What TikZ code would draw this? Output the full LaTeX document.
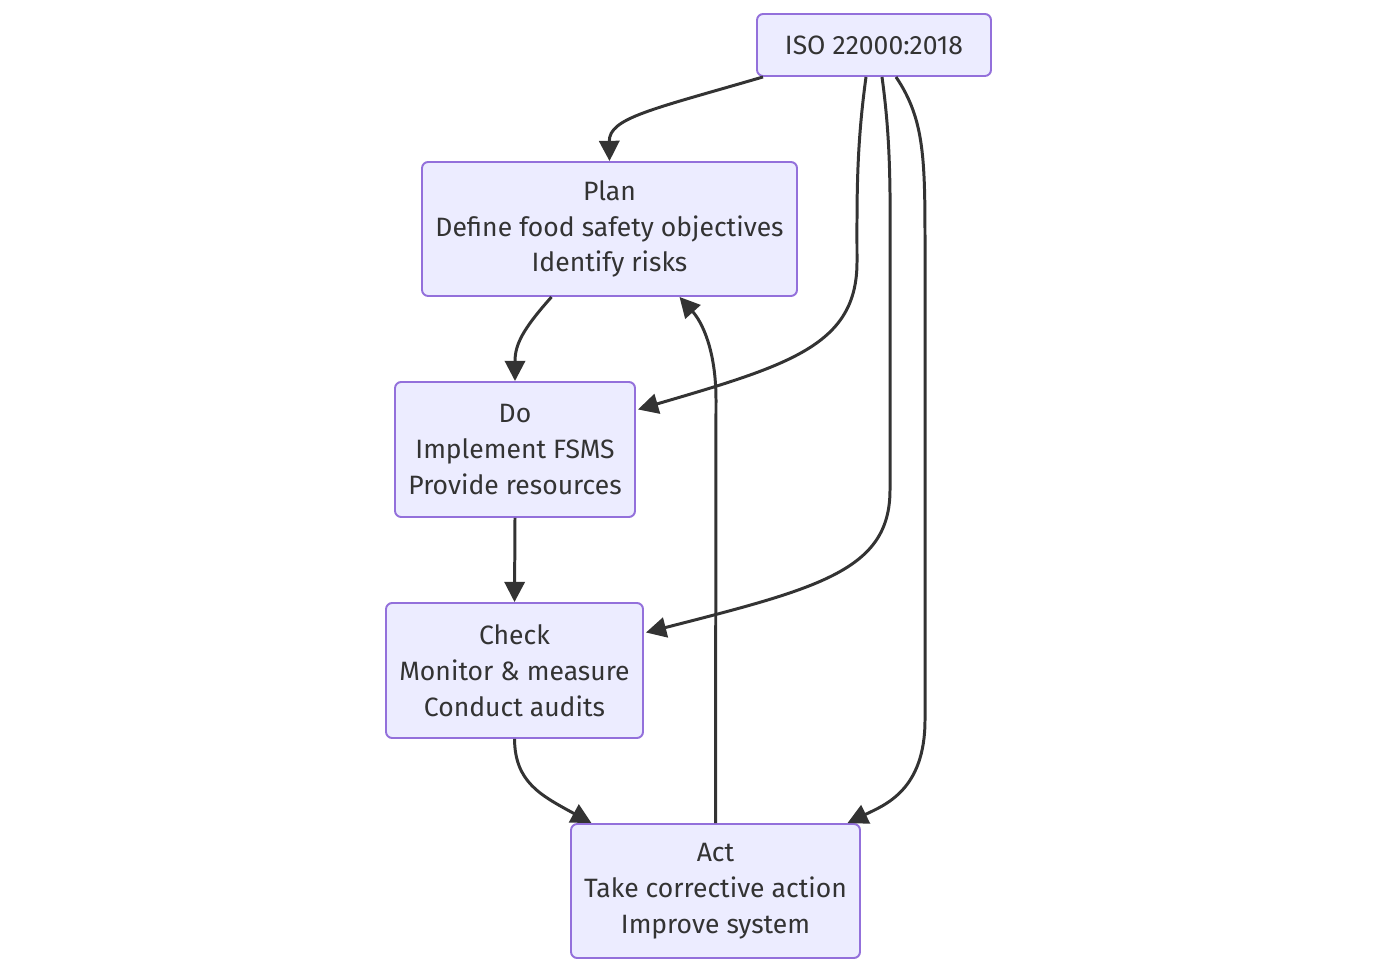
\documentclass[tikz,border=0pt]{standalone}
\usepackage{fontspec}
\setmainfont{Fira Sans}
\usetikzlibrary{arrows.meta,calc}
\definecolor{boxfill}{HTML}{ECECFF}
\definecolor{boxline}{HTML}{9370DB}
\definecolor{ink}{HTML}{333333}
\begin{document}
\begin{tikzpicture}[
                x=0.02cm, y=-0.02cm,
                phase/.style={rectangle,rounded corners=3.5pt,draw=boxline,fill=boxfill,
                    line width=1.1pt,text=ink,align=center,inner sep=0pt,
                    font=\fontsize{15.1}{20.4}\selectfont},
                flow/.style={draw=ink,line width=1.7pt,
                    -{Triangle[length=11.5pt,width=11.5pt]}}
            ]

            \useasboundingbox (0,0) rectangle (1379,972);

            \node[phase,minimum width=234*0.02cm,minimum height=62*0.02cm] (iso) at (874,45) {ISO 22000:2018};
            \node[phase,minimum width=375*0.02cm,minimum height=134*0.02cm] (plan) at (609.5,229)
                {Plan\\Define food safety objectives\\Identify risks};
            \node[phase,minimum width=240*0.02cm,minimum height=135*0.02cm] (do) at (515,449.5)
                {Do\\Implement FSMS\\Provide resources};
            \node[phase,minimum width=257*0.02cm,minimum height=135*0.02cm] (check) at (514.5,670.5)
                {Check\\Monitor \& measure\\Conduct audits};
            \node[phase,minimum width=289*0.02cm,minimum height=134*0.02cm] (act) at (715.5,891)
                {Act\\Take corrective action\\Improve system};

            \draw[flow] ($(iso.south)+(-111,0)$) .. controls (650,110) and (609,118) .. (plan.north);
            \draw[flow] ($(iso.south)+(-8,0)$) .. controls (856,150) and (857,200) .. (857,262)
                .. controls (857,345) and (790,365) .. ($(do.east)+(2,-40)$);
            \draw[flow] ($(iso.south)+(8,0)$) .. controls (892,150) and (890,200) .. (890,300)
                -- (890,490) .. controls (890,570) and (820,588) .. ($(check.east)+(2,-38)$);
            \draw[flow] ($(iso.south)+(22,0)$) .. controls (925,120) and (925,160) .. (925,250)
                -- (925,720) .. controls (925,790) and (885,805) .. ($(act.north)+(132,0)$);

            \draw[flow] ($(plan.south)+(-58,0)$) .. controls (522,330) and (515,345) .. (do.north);
            \draw[flow] (do.south) -- (check.north);
            \draw[flow] (check.south) .. controls (515,782) and (540,795) .. ($(act.north)+(-124,0)$);
            \draw[flow] (act.north) -- (716,400) .. controls (716,350) and (702,322) .. ($(plan.south)+(70,0)$);

        \end{tikzpicture}
\end{document}
